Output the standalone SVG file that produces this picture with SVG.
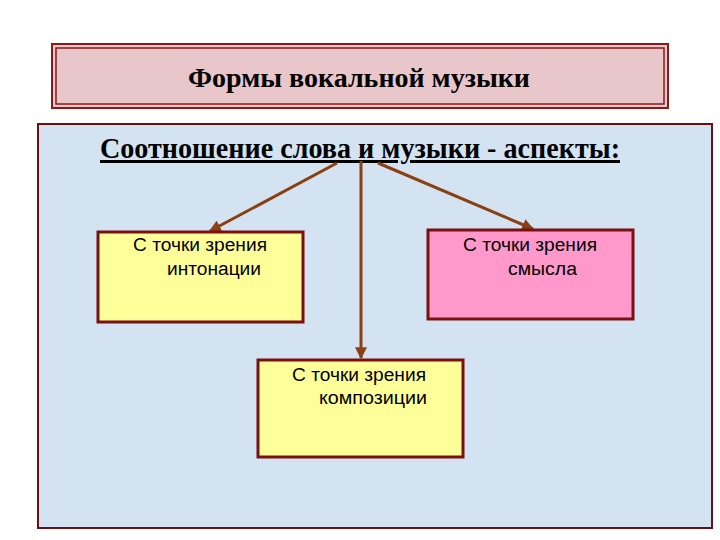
<svg xmlns="http://www.w3.org/2000/svg" width="720" height="540" viewBox="0 0 720 540">
<style>
.box{stroke:#7a1010;stroke-width:3}
.lbl{font-family:"Liberation Sans",Arial,sans-serif;font-size:18px;fill:#000}
.con{stroke:#8a4010;stroke-width:3;fill:none;marker-end:url(#ah)}
</style>
<defs><marker id="ah" viewBox="0 0 10 10" refX="9" refY="5" markerWidth="4" markerHeight="4" orient="auto"><path d="M0,0L10,5L0,10z" fill="#8a4010"/></marker></defs>
<rect width="720" height="540" fill="#fff"/>
<g id="title">
<rect x="52" y="44" width="616" height="64" fill="#e9c6c9" stroke="#8a1a1a" stroke-width="2"/>
<rect x="56" y="48" width="608" height="56" fill="none" stroke="#8a1a1a" stroke-width="1.5"/>
<text x="188" y="87" textLength="342" lengthAdjust="spacingAndGlyphs" font-family="Liberation Serif,serif" font-weight="bold" font-size="27">Формы вокальной музыки</text>
</g>
<g id="panel">
<rect x="38" y="124" width="674" height="404" fill="#d3e3f2" stroke="#6a1010" stroke-width="2"/>
<text x="100" y="158" textLength="520" lengthAdjust="spacingAndGlyphs" font-family="Liberation Serif,serif" font-weight="bold" font-size="30" text-decoration="underline">Соотношение слова и музыки - аспекты:</text>
</g>
<g id="connectors">
<line class="con" x1="337" y1="163" x2="210" y2="231"/>
<line class="con" x1="361" y1="161" x2="361" y2="358"/>
<line class="con" x1="378" y1="163" x2="533" y2="229"/>
</g>
<g id="n-intonation">
<rect class="box" x="98" y="232" width="205" height="90" fill="#ffff99"/>
<text class="lbl" x="133" y="251" textLength="134" lengthAdjust="spacingAndGlyphs">С точки зрения</text>
<text class="lbl" x="167" y="275" textLength="94" lengthAdjust="spacingAndGlyphs">интонации</text>
</g>
<g id="n-meaning">
<rect class="box" x="428" y="230" width="205" height="89" fill="#ff99cc"/>
<text class="lbl" x="463" y="251" textLength="134" lengthAdjust="spacingAndGlyphs">С точки зрения</text>
<text class="lbl" x="508" y="275" textLength="69" lengthAdjust="spacingAndGlyphs">смысла</text>
</g>
<g id="n-composition">
<rect class="box" x="258" y="360" width="205" height="97" fill="#ffff99"/>
<text class="lbl" x="292" y="381" textLength="134" lengthAdjust="spacingAndGlyphs">С точки зрения</text>
<text class="lbl" x="319" y="404" textLength="108" lengthAdjust="spacingAndGlyphs">композиции</text>
</g>
</svg>
